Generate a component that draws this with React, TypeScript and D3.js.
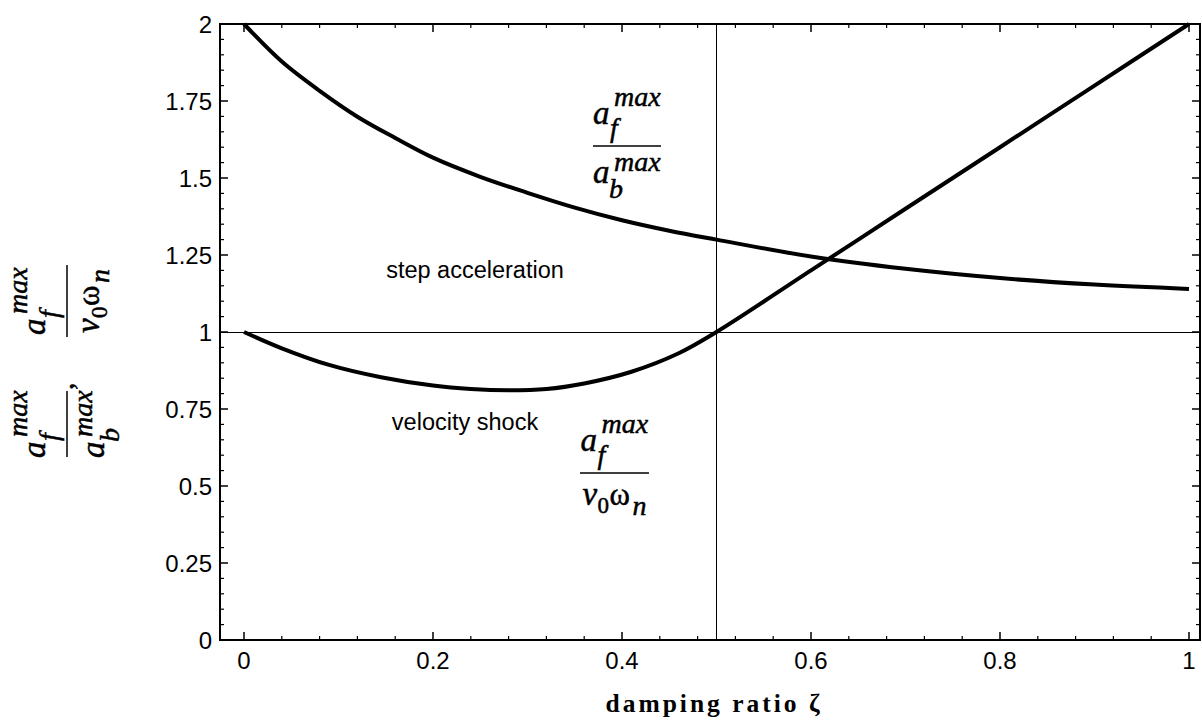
import React from "react";
import * as d3 from "d3";

// ---- data ----
const stepZeta = [0, 0.04, 0.08, 0.12, 0.16, 0.2, 0.25, 0.3, 0.35, 0.4, 0.45, 0.5, 0.6, 0.7, 0.8, 0.9, 1.0];
const stepValues = [2.0, 1.878, 1.783, 1.699, 1.63, 1.566, 1.504, 1.452, 1.404, 1.363, 1.329, 1.3, 1.245, 1.205, 1.175, 1.154, 1.14];

const shockZeta = [0, 0.04, 0.09, 0.145, 0.2, 0.24, 0.28, 0.32, 0.36, 0.41, 0.46, 0.5, 0.6, 0.7, 0.8, 0.9, 1.0];
const shockValues = [1.0, 0.947, 0.893, 0.853, 0.826, 0.815, 0.811, 0.815, 0.833, 0.871, 0.931, 1.0, 1.2, 1.4, 1.6, 1.8, 2.0];

const xTicks = [0, 0.2, 0.4, 0.6, 0.8, 1];
const xTickLabels = ["0", "0.2", "0.4", "0.6", "0.8", "1"];
const yTicks = [0, 0.25, 0.5, 0.75, 1, 1.25, 1.5, 1.75, 2];
const yTickLabels = ["0", "0.25", "0.5", "0.75", "1", "1.25", "1.5", "1.75", "2"];
const xMinorTicks = d3.range(0, 1.0001, 0.04).filter((v) => Math.abs(v / 0.2 - Math.round(v / 0.2)) > 1e-6);
const yMinorTicks = d3.range(0, 2.0001, 0.05).filter((v) => Math.abs(v / 0.25 - Math.round(v / 0.25)) > 1e-6);

const gridX = [0.5];
const gridY = [1];

const W = 1202;
const H = 724;
const left = 220;
const right = 1200;
const top = 24;
const bottom = 640;

const x = d3.scaleLinear().domain([0, 1]).range([244, 1189]);
const y = d3.scaleLinear().domain([0, 2]).range([bottom, top]);

const serif = "'Liberation Serif', 'DejaVu Serif', serif";
const sans = "'Liberation Sans', Arial, sans-serif";

type Piece = { t: string; dx: number; dy: number; size: number; italic?: boolean };

const numAF: Piece[] = [
  { t: "a", dx: -34, dy: -22, size: 33, italic: true },
  { t: "max", dx: -13, dy: -40, size: 28, italic: true },
  { t: "f", dx: -17, dy: -9, size: 28, italic: true },
];
const denAB: Piece[] = [
  { t: "a", dx: -34, dy: 37, size: 33, italic: true },
  { t: "max", dx: -13, dy: 25, size: 28, italic: true },
  { t: "b", dx: -18, dy: 52, size: 28, italic: true },
];
const denVW: Piece[] = [
  { t: "v", dx: -32, dy: 32, size: 33, italic: true },
  { t: "0", dx: -17, dy: 40, size: 23 },
  { t: "ω", dx: -5, dy: 32, size: 31 },
  { t: "n", dx: 18, dy: 42, size: 28, italic: true },
];

function Fraction({ num, den, width, transform, comma }: { num: Piece[]; den: Piece[]; width: number; transform: string; comma?: boolean }) {
  return (
    <g transform={transform} fontFamily={serif}>
      <line x1={-width / 2} x2={width / 2} y1={0} y2={0} stroke="#000" strokeWidth={1.5} />
      {[...num, ...den].map((p, i) => (
        <text key={i} x={p.dx} y={p.dy} fontSize={p.size} fontStyle={p.italic ? "italic" : "normal"} fill="#000" stroke="#000" strokeWidth={0.5}>
          {p.t}
        </text>
      ))}
      {comma && (
        <text x={width / 2 + 1} y={6} fontSize={30} fill="#000" stroke="#000" strokeWidth={0.5}>
          ,
        </text>
      )}
    </g>
  );
}

export default function App() {
  const stepLine = d3
    .line<number>()
    .x((_, i) => x(stepZeta[i]))
    .y((d) => y(d))
    .curve(d3.curveCatmullRom.alpha(0.5))(stepValues);
  const shockLine = d3
    .line<number>()
    .x((_, i) => x(shockZeta[i]))
    .y((d) => y(d))
    .curve(d3.curveCatmullRom.alpha(0.5))(shockValues);

  return (
    <svg width={W} height={H} style={{ position: "absolute", left: 0, top: 0, background: "#fff" }}>
      <rect x={0} y={0} width={W} height={H} fill="#fff" />
      {/* grid lines */}
      {gridX.map((g) => (
        <line key={"gx" + g} x1={x(g)} x2={x(g)} y1={top} y2={bottom} stroke="#000" strokeWidth={1} shapeRendering="crispEdges" />
      ))}
      {gridY.map((g) => (
        <line key={"gy" + g} x1={left} x2={right} y1={y(g)} y2={y(g)} stroke="#000" strokeWidth={1} shapeRendering="crispEdges" />
      ))}
      {/* frame */}
      <rect x={left} y={top} width={right - left} height={bottom - top} fill="none" stroke="#000" strokeWidth={2} />
      {/* ticks on all four sides */}
      {xTicks.map((t) => (
        <g key={"xt" + t}>
          <line x1={x(t)} x2={x(t)} y1={bottom} y2={bottom - 8} stroke="#000" strokeWidth={1.5} />
          <line x1={x(t)} x2={x(t)} y1={top} y2={top + 8} stroke="#000" strokeWidth={1.5} />
        </g>
      ))}
      {xMinorTicks.map((t) => (
        <g key={"xm" + t}>
          <line x1={x(t)} x2={x(t)} y1={bottom} y2={bottom - 4} stroke="#000" strokeWidth={1.2} />
          <line x1={x(t)} x2={x(t)} y1={top} y2={top + 4} stroke="#000" strokeWidth={1.2} />
        </g>
      ))}
      {yTicks.map((t) => (
        <g key={"yt" + t}>
          <line x1={left} x2={left + 8} y1={y(t)} y2={y(t)} stroke="#000" strokeWidth={1.5} />
          <line x1={right} x2={right - 8} y1={y(t)} y2={y(t)} stroke="#000" strokeWidth={1.5} />
        </g>
      ))}
      {yMinorTicks.map((t) => (
        <g key={"ym" + t}>
          <line x1={left} x2={left + 4} y1={y(t)} y2={y(t)} stroke="#000" strokeWidth={1.2} />
          <line x1={right} x2={right - 4} y1={y(t)} y2={y(t)} stroke="#000" strokeWidth={1.2} />
        </g>
      ))}
      {/* tick labels */}
      {xTicks.map((t, i) => (
        <text key={"xl" + t} x={x(t)} y={669} fontFamily={sans} fontSize={24} textAnchor="middle" fill="#000">
          {xTickLabels[i]}
        </text>
      ))}
      {yTicks.map((t, i) => (
        <text key={"yl" + t} x={212} y={y(t)} dy="0.36em" fontFamily={sans} fontSize={24} textAnchor="end" fill="#000">
          {yTickLabels[i]}
        </text>
      ))}
      {/* curves */}
      <path d={stepLine ?? ""} fill="none" stroke="#000" strokeWidth={4} strokeLinejoin="round" />
      <path d={shockLine ?? ""} fill="none" stroke="#000" strokeWidth={4} strokeLinejoin="round" />
      {/* annotations */}
      <text x={475} y={278} fontFamily={sans} fontSize={23.5} textAnchor="middle" fill="#000">
        step acceleration
      </text>
      <text x={465} y={430} fontFamily={sans} fontSize={23.5} textAnchor="middle" fill="#000">
        velocity shock
      </text>
      <Fraction num={numAF} den={denAB} width={68} transform="translate(627,146)" />
      <Fraction num={numAF} den={denVW} width={69} transform="translate(614.5,473)" />
      {/* y axis label (rotated) */}
      <Fraction num={numAF} den={denAB} width={66} transform="translate(67,424) rotate(-90)" comma />
      <Fraction num={numAF} den={denVW} width={72} transform="translate(67,301) rotate(-90)" />
      {/* x axis title */}
      <text x={714} y={712} fontFamily={serif} fontSize={25.5} fontWeight="bold" textAnchor="middle" letterSpacing={3} fill="#000">
        damping ratio  ζ
      </text>
    </svg>
  );
}
